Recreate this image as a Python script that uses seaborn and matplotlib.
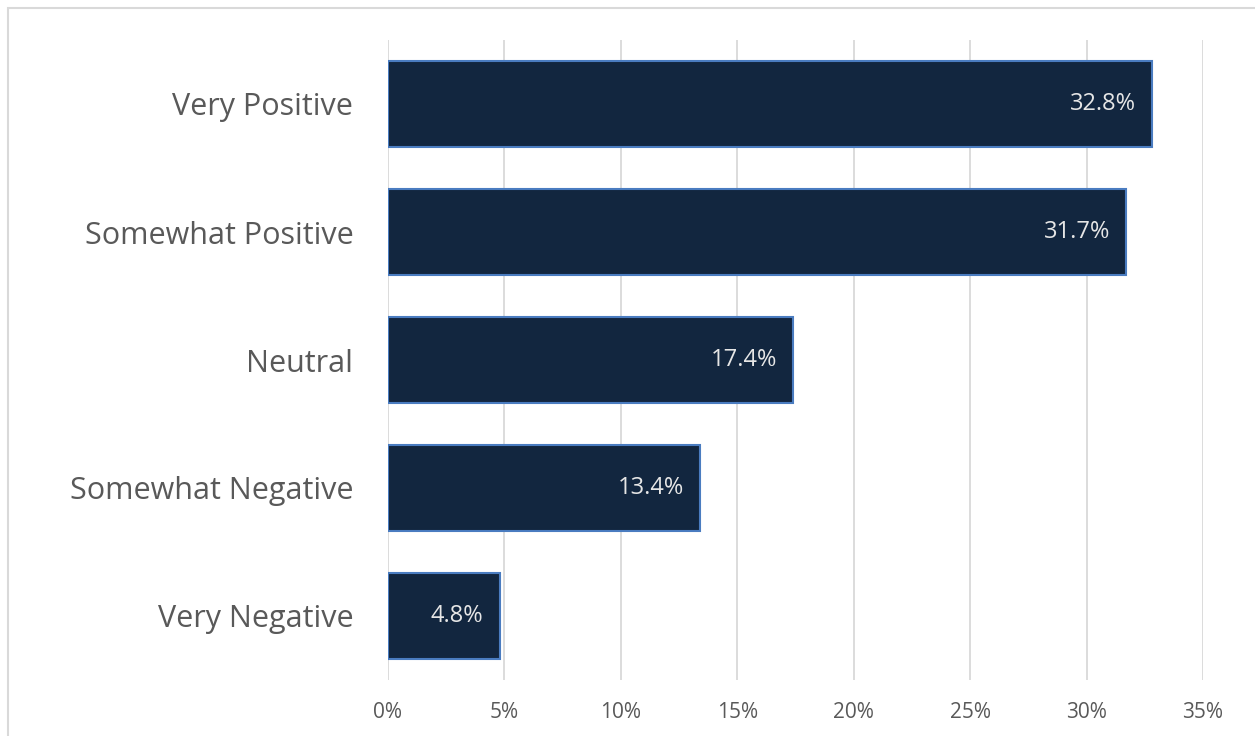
import matplotlib
matplotlib.use("Agg")
import matplotlib.pyplot as plt
import seaborn as sns
import pandas as pd
from matplotlib.patches import Rectangle

categories = ["Very Positive", "Somewhat Positive", "Neutral", "Somewhat Negative", "Very Negative"]
shares = [32.8, 31.7, 17.4, 13.4, 4.8]
x_ticks = [0, 5, 10, 15, 20, 25, 30, 35]

df = pd.DataFrame({"category": categories, "share": shares})

sns.set_style("white")
plt.rcParams["font.family"] = ["Open Sans", "DejaVu Sans"]

fig = plt.figure(figsize=(12.55, 7.36), dpi=100)
ax = fig.add_axes([388 / 1255, 1 - 680 / 736, (1203 - 388) / 1255, 640 / 736])

sns.barplot(data=df, x="share", y="category", color="#12263F", width=0.67,
            edgecolor="#4A7CC0", linewidth=1.5, saturation=1, ax=ax, zorder=3)

ax.set_xlim(0, 35)
ax.set_xticks(x_ticks)
ax.set_xticklabels([f"{t}%" for t in x_ticks], fontsize=15, color="#595959")
ax.tick_params(axis="x", length=0, pad=16)
ax.tick_params(axis="y", length=0, pad=25, labelsize=22, labelcolor="#595959")
ax.xaxis.grid(True, color="#D9D9D9", linewidth=1.3, zorder=0)
ax.yaxis.grid(False)
for s in ax.spines.values():
    s.set_visible(False)
ax.set_xlabel("")
ax.set_ylabel("")

for i, v in enumerate(shares):
    ax.text(v - 0.7, i, f"{v}%", ha="right", va="center", fontsize=17,
            color="#E6E6E6", zorder=4)

# outer chart frame
fig.patches.append(Rectangle((8 / 1255, -0.1), 1.2, 1 - 8 / 736 + 0.1,
                             transform=fig.transFigure, fill=False,
                             edgecolor="#D9D9D9", linewidth=1.5))

fig.savefig("out.png", dpi=100)
